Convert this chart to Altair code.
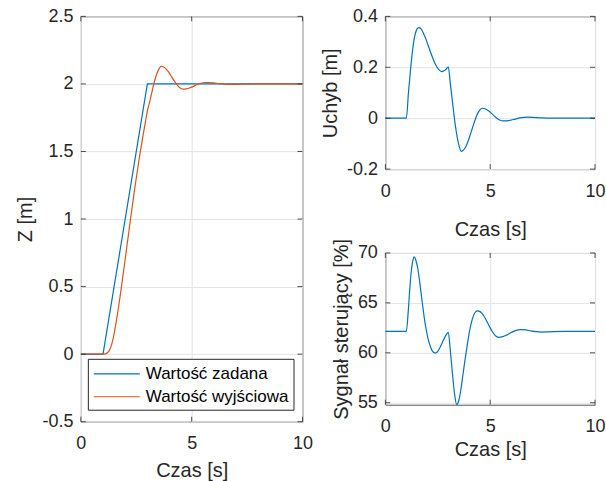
import altair as alt
import pandas as pd

FONT = "Liberation Sans"
INK = "#262626"
FRAME = "#555555"
GRID = "#e3e3e3"
BLUE = "#0072BD"
ORANGE = "#D95319"

series_names = ["Wartość zadana", "Wartość wyjściowa"]

# reference trajectory (ramp from 0 to 2 m between 1 s and 3 s)
t_ref = [0, 1, 3, 10]
z_ref = [0, 0, 2, 2]

# simulated output and tracking error, on a shared time base [s]
t_out = [0, 1.0, 1.1, 1.2, 1.3, 1.4, 1.5, 1.6, 1.7, 1.8, 1.9, 2.0, 2.1, 2.2,
         2.3, 2.4, 2.5, 2.6, 2.7, 2.8, 2.9, 3.0, 3.1, 3.2, 3.3, 3.4, 3.5,
         3.62, 3.7, 3.8, 3.9, 4.0, 4.1, 4.2, 4.3, 4.4, 4.5, 4.63, 4.75, 4.9,
         5.1, 5.3, 5.45, 5.63, 5.8, 6.0, 6.2, 6.5, 6.75, 7.0, 7.4, 8.0, 10.0]
z_out = [0, 0, 0.002, 0.01, 0.032, 0.078, 0.151, 0.244, 0.349, 0.463,
         0.582, 0.704, 0.828, 0.951, 1.072, 1.19, 1.304, 1.413, 1.517,
         1.614, 1.707, 1.798, 1.865, 1.935, 2.005, 2.062, 2.104, 2.13,
         2.127, 2.117, 2.1, 2.078, 2.052, 2.026, 2.002, 1.982, 1.968, 1.961,
         1.963, 1.97, 1.984, 1.999, 2.007, 2.0105, 2.0102, 2.0073, 2.0033,
         1.9978, 1.996, 1.9965, 1.9985, 2.0, 2.0]
err = [0, 0, 0.098, 0.19, 0.268, 0.322, 0.349, 0.356, 0.351, 0.337, 0.318,
       0.296, 0.272, 0.249, 0.228, 0.21, 0.196, 0.187, 0.183, 0.186, 0.193,
       0.202, 0.135, 0.065, -0.005, -0.062, -0.104, -0.13, -0.127, -0.117,
       -0.1, -0.078, -0.052, -0.026, -0.002, 0.018, 0.032, 0.039, 0.037,
       0.03, 0.016, 0.001, -0.007, -0.0105, -0.0102, -0.0073, -0.0033,
       0.0022, 0.004, 0.0035, 0.0015, 0.0, 0.0]

# control signal [%]
t_ctrl = [0, 1.0, 1.1, 1.2, 1.3, 1.38, 1.45, 1.55, 1.65, 1.75, 1.85, 1.95,
          2.05, 2.15, 2.25, 2.38, 2.5, 2.6, 2.7, 2.8, 2.9, 3.0, 3.1, 3.2,
          3.3, 3.4, 3.5, 3.6, 3.7, 3.8, 3.9, 4.0, 4.1, 4.2, 4.3, 4.41, 4.5,
          4.6, 4.7, 4.8, 4.9, 5.0, 5.1, 5.25, 5.4, 5.6, 5.8, 6.0, 6.2, 6.45,
          6.7, 6.95, 7.2, 7.45, 7.8, 8.5, 10.0]
u_ctrl = [62.15, 62.15, 64.4, 67.4, 69.1, 69.6, 69.3, 68.4, 66.9, 65.2,
          63.6, 62.3, 61.3, 60.6, 60.15, 59.98, 60.15, 60.5, 60.95, 61.4,
          61.8, 62.05, 60.2, 57.9, 55.9, 54.82, 55.2, 56.3, 57.8, 59.3, 60.7,
          62.0, 63.0, 63.7, 64.1, 64.2, 64.15, 63.97, 63.69, 63.32, 62.92,
          62.5, 62.13, 61.71, 61.55, 61.62, 61.8, 62.03, 62.22, 62.33, 62.29,
          62.2, 62.12, 62.08, 62.1, 62.14, 62.15]

# tick values
x_ticks = [0, 5, 10]
z_ticks = [-0.5, 0, 0.5, 1, 1.5, 2, 2.5]
e_ticks = [-0.2, 0, 0.2, 0.4]
u_ticks = [55, 60, 65, 70]

LW = 1.2
TICK = 5


def axis(title, values, **kw):
    return alt.Axis(
        title=title, values=values, grid=True, gridColor=GRID, gridWidth=1,
        ticks=False, domain=False, labelFont=FONT, labelFontSize=18,
        labelColor=INK, labelExpr="datum.value + ''", labelFlush=False,
        labelOverlap=False, titleFont=FONT, titleFontSize=20,
        titleColor=INK, titleFontWeight="normal", **kw)


def x_axis(W, title_y):
    return axis("Czas [s]", x_ticks, labelPadding=13, titleX=W / 2,
                titleY=title_y, titleAlign="center",
                titleBaseline="alphabetic")


def y_axis(title, values, H, title_x):
    return axis(title, values, labelPadding=8, titleX=title_x,
                titleY=H / 2, titleAngle=270, titleAlign="center",
                titleBaseline="alphabetic")


def inner_ticks(xv, yv, W, H):
    """Short inward tick marks on all four sides of a boxed panel."""
    xdf = pd.DataFrame({"t": xv})
    ydf = pd.DataFrame({"y": yv})
    rx = alt.Chart(xdf).mark_rule(color=INK, strokeWidth=0.8)
    ry = alt.Chart(ydf).mark_rule(color=INK, strokeWidth=0.8)
    xe = alt.X("t:Q")
    ye = alt.Y("y:Q")
    return [
        rx.encode(x=xe, y=alt.value(H - TICK), y2=alt.value(H)),
        rx.encode(x=xe, y=alt.value(0), y2=alt.value(TICK)),
        ry.encode(y=ye, x=alt.value(0), x2=alt.value(TICK)),
        ry.encode(y=ye, x=alt.value(W - TICK), x2=alt.value(W)),
    ]


# ---- left panel: reference vs output position ----
WL, HL = 222, 406
ref_df = pd.DataFrame({"t": t_ref, "y": z_ref, "s": series_names[0]})
out_df = pd.DataFrame({"t": t_out, "y": z_out, "s": series_names[1]})

xs_l = alt.X("t:Q", scale=alt.Scale(domain=[0, 10], nice=False, zero=False),
             axis=x_axis(WL, 55))
ys_l = alt.Y("y:Q", scale=alt.Scale(domain=[-0.5, 2.5], nice=False, zero=False),
             axis=y_axis("Z [m]", z_ticks, HL, -49))
color = alt.Color(
    "s:N",
    scale=alt.Scale(domain=series_names, range=[BLUE, ORANGE]),
    legend=alt.Legend(
        title=None, orient="none", legendX=7, legendY=343,
        symbolType="M-2.5,0H2.5", symbolSize=339, symbolStrokeWidth=LW,
        symbolOffset=14, labelOffset=19,
        labelFont=FONT, labelFontSize=17, labelColor="black", labelLimit=400,
        padding=5, rowPadding=5, strokeColor=INK, fillColor="white",
        cornerRadius=0),
)

ref_line = alt.Chart(ref_df).mark_line(strokeWidth=LW).encode(
    x=xs_l, y=ys_l, color=color)
out_line = alt.Chart(out_df).mark_line(strokeWidth=LW, interpolate="monotone").encode(
    x=xs_l, y=ys_l, color=color)
left = alt.layer(ref_line, out_line, *inner_ticks(x_ticks, z_ticks, WL, HL)).properties(
    width=WL, height=HL)

# ---- top right: tracking error ----
WR, HT, HB = 210, 153, 152
err_df = pd.DataFrame({"t": t_out, "y": err})
err_line = alt.Chart(err_df).mark_line(
    strokeWidth=LW, color=BLUE, interpolate="monotone").encode(
    x=alt.X("t:Q", scale=alt.Scale(domain=[0, 10], nice=False, zero=False),
            axis=x_axis(WR, 66)),
    y=alt.Y("y:Q", scale=alt.Scale(domain=[-0.2, 0.4], nice=False, zero=False),
            axis=y_axis("Uchyb [m]", e_ticks, HT, -49)),
)
top_right = alt.layer(err_line, *inner_ticks(x_ticks, e_ticks, WR, HT)).properties(
    width=WR, height=HT)

# ---- bottom right: control signal ----
ctrl_df = pd.DataFrame({"t": t_ctrl, "y": u_ctrl})
ctrl_line = alt.Chart(ctrl_df).mark_line(
    strokeWidth=LW, color=BLUE, interpolate="monotone").encode(
    x=alt.X("t:Q", scale=alt.Scale(domain=[0, 10], nice=False, zero=False),
            axis=x_axis(WR, 51)),
    y=alt.Y("y:Q", scale=alt.Scale(domain=[54.8, 70], nice=False, zero=False),
            axis=y_axis("Sygnał sterujący [%]", u_ticks, HB, -38)),
)
bottom_right = alt.layer(ctrl_line, *inner_ticks(x_ticks, u_ticks, WR, HB)).properties(
    width=WR, height=HB)

right = alt.vconcat(top_right, bottom_right, spacing=84, bounds="flush")
chart = alt.hconcat(left, right, spacing=83, bounds="flush").properties(
    padding={"left": 15, "top": 6, "right": 0, "bottom": 0},
    background="white",
).configure_view(stroke=FRAME, strokeWidth=1)

chart.save("out.html", embed_options={"renderer": "svg", "actions": False})
